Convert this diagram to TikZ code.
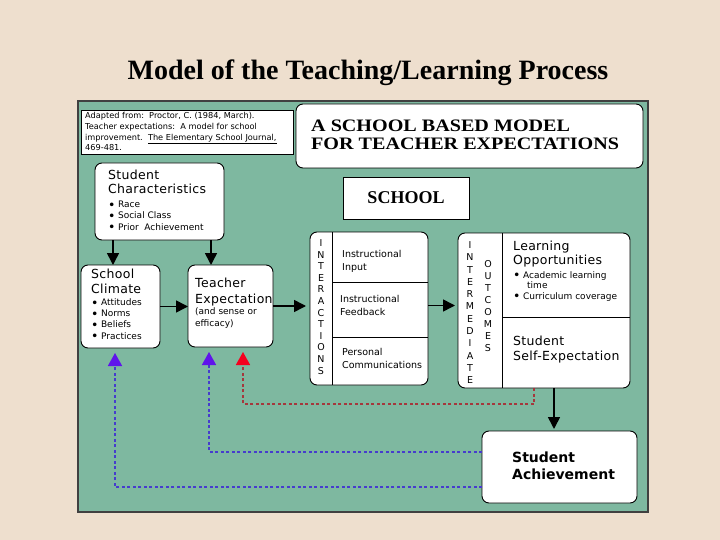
\documentclass[tikz,border=0pt]{standalone}
\usepackage{fontspec}
\setmainfont{DejaVu Sans}
\newfontfamily\spaziata[LetterSpace=2.5]{DejaVu Sans}
\newfontfamily\titlefont{Liberation Serif}
\newfontfamily\headfont[FakeStretch=1.15]{Liberation Serif}
\usetikzlibrary{arrows.meta}

\definecolor{sfondo}{RGB}{238,223,206}
\definecolor{pannello}{RGB}{126,184,160}
\definecolor{blulinea}{RGB}{70,60,205}
\definecolor{blutesta}{RGB}{95,20,235}
\definecolor{rossolinea}{RGB}{165,55,60}
\definecolor{rossotesta}{RGB}{245,0,30}

\newcommand{\punto}{\raisebox{-1.9pt}{\fontsize{12.5}{12.5}\selectfont\textbullet}\hspace{2.5pt}}

\begin{document}
\begin{tikzpicture}[x=1pt,y=-1pt,
    riquadro/.style={draw,fill=white,line width=0.9pt,inner sep=0pt,outer sep=0pt,anchor=north west},
    tondo/.style={riquadro,rounded corners=7pt},
    testo/.style={anchor=base west,inner sep=0pt,align=left},
    voce/.style={testo,font=\spaziata\fontsize{12.5}{14.5}\selectfont},
    elenco/.style={testo,font=\fontsize{9}{11.2}\selectfont},
    lettera/.style={inner sep=0pt,font=\fontsize{9.5}{9.5}\selectfont},
    freccia/.style={-{Triangle[length=12pt,width=12pt]},line width=1.6pt},
    ritorno/.style={line width=1.6pt,dash pattern=on 3pt off 2.5pt}]

    \fill[sfondo] (0,0) rectangle (720,540);
    \useasboundingbox (0,0) rectangle (720,540);

    \node[font=\titlefont\bfseries\fontsize{28}{30}\selectfont,anchor=base,inner sep=0pt] (intest) at (368,80) {Model of the Teaching/Learning Process};

    \draw[fill=pannello,line width=1.5pt,draw=black!75] (78,101) rectangle (648,512);

    %%%%%%%%%% Riquadri %%%%%%%%%%
    \node[riquadro,minimum width=212,minimum height=44] (fonte) at (81,110) {};
    \node[tondo,minimum width=347,minimum height=64] (titolo) at (296,104) {};
    \node[riquadro,minimum width=126,minimum height=42] (scuola) at (343,177) {\titlefont\bfseries\fontsize{18}{20}\selectfont SCHOOL};
    \node[tondo,minimum width=129,minimum height=77] (stud) at (95,163) {};
    \node[tondo,minimum width=79,minimum height=83] (clima) at (81,265) {};
    \node[tondo,minimum width=85,minimum height=82] (aspett) at (188,265) {};
    \node[tondo,minimum width=118,minimum height=153] (inter) at (310,232) {};
    \node[tondo,minimum width=172,minimum height=155] (esiti) at (458,233) {};
    \node[tondo,minimum width=155,minimum height=72] (rendim) at (482,431) {};

    \draw[line width=0.9pt] ([xshift=22]inter.north west) -- ([xshift=22]inter.south west);
    \draw[line width=0.9pt] ([xshift=22,yshift=-50]inter.north west) -- ([yshift=-50]inter.north east);
    \draw[line width=0.9pt] ([xshift=22,yshift=-105]inter.north west) -- ([yshift=-105]inter.north east);
    \draw[line width=0.9pt] ([xshift=44]esiti.north west) -- ([xshift=44]esiti.south west);
    \draw[line width=0.9pt] ([xshift=44,yshift=-84]esiti.north west) -- ([yshift=-84]esiti.north east);

    %%%%%%%%%% Testi %%%%%%%%%%
    \node[testo,font=\fontsize{8.2}{10.7}\selectfont] (fontetesto) at (85,151) {Adapted from:\ \ Proctor, C. (1984, March).\\Teacher expectations:\ \ A model for school\\improvement.\ \ \underline{The Elementary School Journal,}\\469-481.};
    \node[testo,font=\headfont\bfseries\fontsize{17.5}{18}\selectfont] (modello) at (311,150) {A SCHOOL BASED MODEL\\FOR TEACHER EXPECTATIONS};

    \node[voce] (studtesto) at (108,194) {Student\\Characteristics};
    \node[elenco] (studlista) at (108,230) {\punto Race\\\punto Social Class\\\punto Prior\ \ Achievement};

    \node[voce] (climatesto) at (91,293) {School\\Climate};
    \node[elenco] (climalista) at (91,339) {\punto Attitudes\\\punto Norms\\\punto Beliefs\\\punto Practices};

    \node[voce,font=\spaziata\fontsize{12.5}{16}\selectfont] (aspetttesto) at (195,303) {Teacher\\Expectation};
    \node[elenco] (aspettnota) at (195,326) {(and sense or\\efficacy)};

    \node[testo,font=\fontsize{9.5}{12.5}\selectfont] (input) at (342,270) {Instructional\\Input};
    \node[testo,font=\fontsize{9.5}{12.5}\selectfont] (feedback) at (340,315) {Instructional\\Feedback};
    \node[testo,font=\fontsize{9.5}{12.5}\selectfont] (comunic) at (342,368) {Personal\\Communications};

    \node[voce,font=\spaziata\fontsize{12.5}{13.5}\selectfont] (opport) at (513,264) {Learning\\Opportunities};
    \node[elenco,font=\fontsize{9}{10.5}\selectfont] (opportlista) at (513,299) {\punto Academic learning\\\hspace*{14pt}time\\\punto Curriculum coverage};
    \node[voce] (autoasp) at (513,360) {Student\\Self-Expectation};

    \node[testo,font=\bfseries\fontsize{14}{17}\selectfont] (rendtesto) at (512,479) {Student\\Achievement};

    \foreach \l [count=\i] in {I,N,T,E,R,A,C,T,I,O,N,S}
        \node[lettera] (int\i) at (321,{243+(\i-1)*11.6}) {\l};
    \foreach \l [count=\i] in {I,N,T,E,R,M,E,D,I,A,T,E}
        \node[lettera] (med\i) at (470,{245+(\i-1)*12.3}) {\l};
    \foreach \l [count=\i] in {O,U,T,C,O,M,E,S}
        \node[lettera] (esi\i) at (488,{264+(\i-1)*12}) {\l};

    %%%%%%%%%% Collegamenti %%%%%%%%%%
    \draw[freccia] ([xshift=18]stud.south west) -- ([xshift=32]clima.north west);
    \draw[freccia] ([xshift=116]stud.south west) -- ([xshift=23]aspett.north west);
    \draw[freccia] (clima.east) -- (clima.east -| aspett.west);
    \draw[freccia,shorten >=4pt] (aspett.east) -- (aspett.east -| inter.west);
    \draw[freccia,shorten >=3pt] ([yshift=3]inter.east) -- ([yshift=3]inter.east -| esiti.west);
    \draw[freccia,shorten >=2pt] ([xshift=10]esiti.south) -- ([xshift=10]esiti.south |- rendim.north);

    \draw[ritorno,draw=rossolinea,-{Triangle[length=13pt,width=14pt,color=rossotesta]}] ([xshift=-10]esiti.south) -- ++(0,16) -| ([xshift=55,yshift=-5]aspett.south west);
    \draw[ritorno,draw=blulinea,-{Triangle[length=13pt,width=14pt,color=blutesta]}] ([yshift=15]rendim.west) -| ([xshift=21,yshift=-5]aspett.south west);
    \draw[ritorno,draw=blulinea,-{Triangle[length=13pt,width=14pt,color=blutesta]}] ([yshift=-20]rendim.west) -| ([xshift=34,yshift=-5]clima.south west);
\end{tikzpicture}
\end{document}
